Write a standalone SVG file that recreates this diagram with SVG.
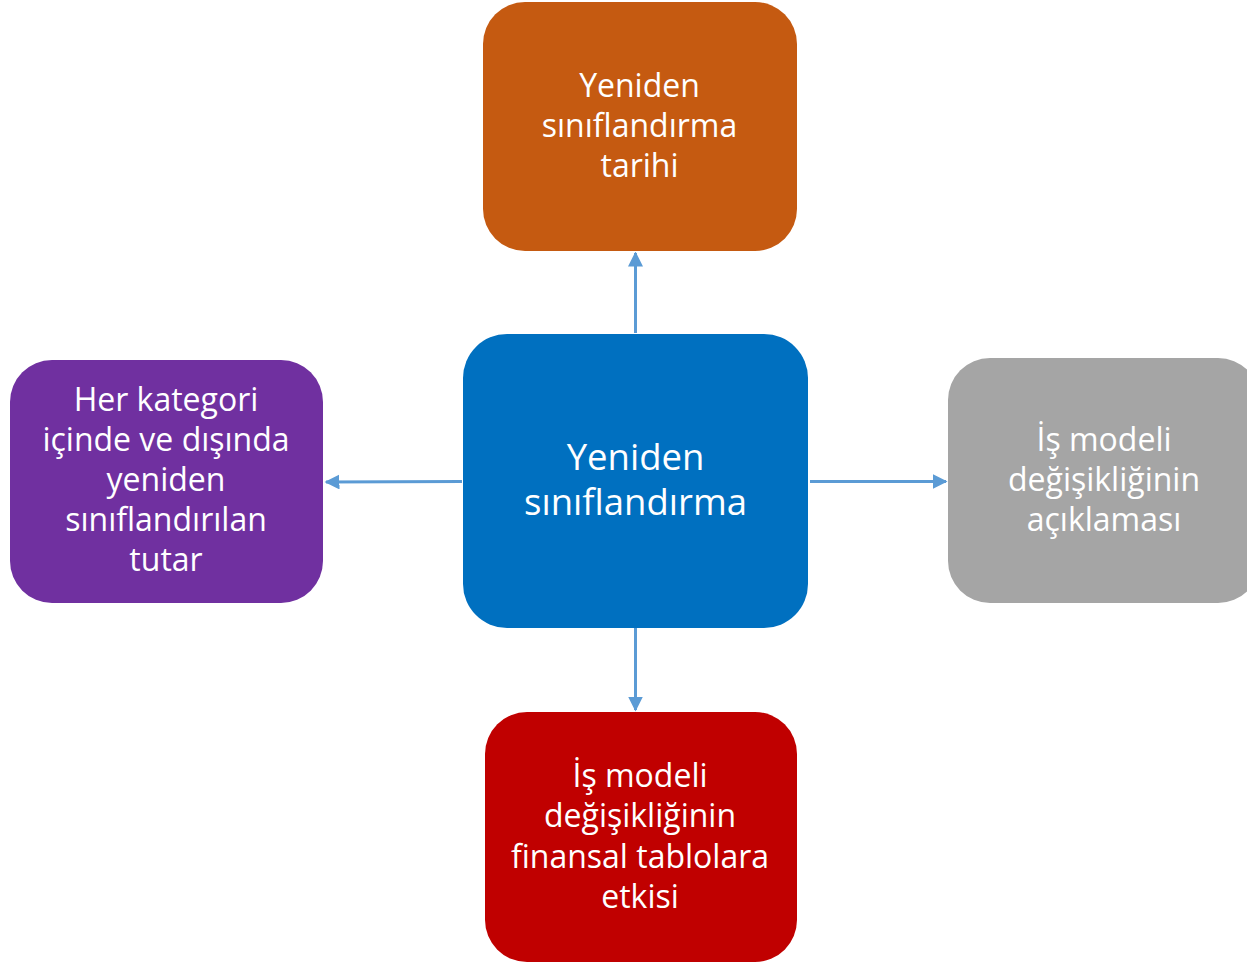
<svg xmlns="http://www.w3.org/2000/svg" width="1247" height="965" viewBox="0 0 1247 965">
<defs>
<style>
.t{font-family:"Open Sans","Liberation Sans",sans-serif;font-size:32px;fill:#FFFFFF;text-anchor:middle;font-variant-ligatures:none}
.tc{font-size:36.5px}
.c{stroke:#5B9BD5;stroke-width:3;fill:none}
</style>
<marker id="ah" viewBox="0 0 10 10" refX="9" refY="5" markerWidth="5" markerHeight="5" markerUnits="strokeWidth" orient="auto">
<path d="M0,0 L10,5 L0,10 Z" fill="#5B9BD5"/>
</marker>
</defs>
<rect width="1247" height="965" fill="#FFFFFF"/>
<g id="connectors">
<line class="c" x1="635.5" y1="333" x2="635.5" y2="253" marker-end="url(#ah)"/>
<line class="c" x1="462" y1="481.5" x2="326" y2="482" marker-end="url(#ah)"/>
<line class="c" x1="810" y1="481.5" x2="946" y2="481.5" marker-end="url(#ah)"/>
<line class="c" x1="635.5" y1="628" x2="635.5" y2="710" marker-end="url(#ah)"/>
</g>
<g id="node-top">
<rect x="483" y="2" width="314" height="249" rx="42" fill="#C55A11"/>
<text class="t" x="639.5" y="97">Yeniden</text>
<text class="t" x="639.5" y="137">sınıflandırma</text>
<text class="t" x="639.5" y="177">tarihi</text>
</g>
<g id="node-center">
<rect x="463" y="334" width="345" height="294" rx="44" fill="#0070C0"/>
<text class="t tc" x="635.5" y="470">Yeniden</text>
<text class="t tc" x="635.5" y="515">sınıflandırma</text>
</g>
<g id="node-left">
<rect x="10" y="360" width="313" height="243" rx="42" fill="#7030A0"/>
<text class="t" x="166" y="411">Her kategori</text>
<text class="t" x="166" y="451">içinde ve dışında</text>
<text class="t" x="166" y="491">yeniden</text>
<text class="t" x="166" y="531">sınıflandırılan</text>
<text class="t" x="166" y="571">tutar</text>
</g>
<g id="node-right">
<rect x="948" y="358" width="312" height="245" rx="42" fill="#A5A5A5"/>
<text class="t" x="1104" y="451">İş modeli</text>
<text class="t" x="1104" y="491">değişikliğinin</text>
<text class="t" x="1104" y="531">açıklaması</text>
</g>
<g id="node-bottom">
<rect x="485" y="712" width="312" height="250" rx="42" fill="#C00000"/>
<text class="t" x="640" y="787">İş modeli</text>
<text class="t" x="640" y="827">değişikliğinin</text>
<text class="t" x="640" y="868">finansal tablolara</text>
<text class="t" x="640" y="908">etkisi</text>
</g>
</svg>
